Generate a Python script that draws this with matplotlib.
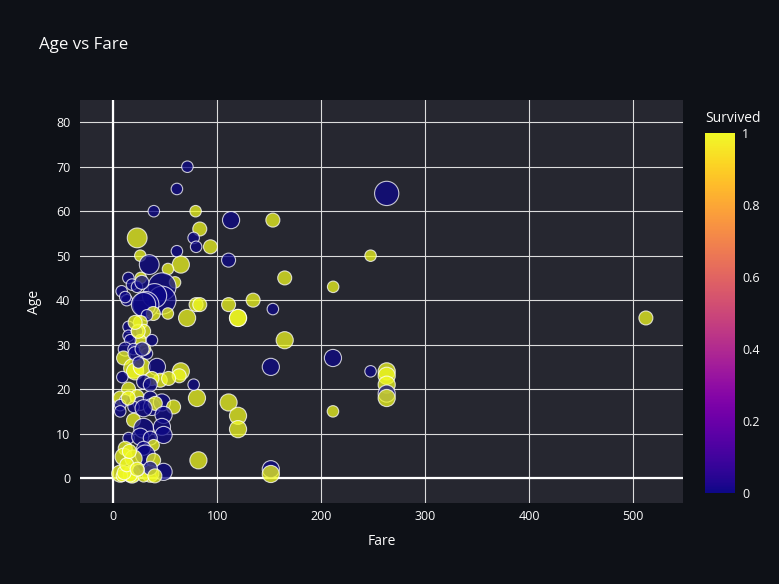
import numpy as np
import matplotlib
matplotlib.use("Agg")
import matplotlib.pyplot as plt
from matplotlib.colors import Normalize

plt.rcParams['font.family'] = ['Open Sans', 'DejaVu Sans']

# fare, age, survived (0/1) and family size (used for bubble area)
fare = [263, 113.3, 153.5, 83.2, 93.5, 110.9, 247.5, 164.9, 211.5, 79.65,
        83.2, 110.9, 134.5, 153.5, 120, 120, 164.9, 211.3, 151.55, 247.5,
        263, 263, 263, 263, 263, 80.5, 110.9, 120, 120, 211.3,
        81.9, 151.55, 151.55, 512.3, 71.3, 61.2, 39, 79.2, 23, 77.3,
        79.7, 61.2, 26, 34.6, 65, 52.6, 14.5, 26.5, 18, 59.4,
        8.05, 13, 46.9, 46.9, 39.7, 31.3, 29.1, 22.8, 27.5, 11.5,
        52.5, 71, 38.5, 32.4, 26, 29.2, 14.7, 14.7, 22.8, 26,
        16.3, 37.2, 11.5, 19.5, 32.4, 9.9, 19.5, 21, 27.5, 42,
        65, 63.4, 45.2, 53.2, 37.2, 29.2, 35.6, 77.3, 14.7, 6.7,
        11.5, 22.8, 26, 35.6, 37.2, 46.8, 40.4, 58, 6.7, 19.5,
        6.7, 29.2, 48.4, 19.5, 29.2, 46.8, 48.4, 14.7, 26, 35.6,
        38.8, 29.2, 30.8, 11.5, 9.9, 19.5, 38.8, 48.4, 6.7, 18,
        18, 35.6, 29.2, 16.3, 8.3, 35.6, 24.3, 14.5, 21, 24.2,
        30.5, 8.7, 10.5, 13, 23, 40, 15.5, 24, 21, 27.7]
age = [64, 58, 58, 56, 52, 49, 50, 45, 43, 39,
       39, 39, 40, 38, 36, 36, 31, 27, 25, 24,
       24, 23, 21, 19, 18, 18, 17, 14, 11, 15,
       4, 2, 0.92, 36, 70, 65, 60, 60, 54, 54,
       52, 51, 50, 48, 48, 47, 45, 45, 43.5, 44,
       42, 40, 43, 40, 41, 39, 39, 43, 44, 40.7,
       37, 36, 37, 36.6, 35, 33, 34, 32, 33, 31,
       31, 31, 29, 29, 28, 27, 24.7, 24, 25, 25,
       24, 23, 22, 22.4, 22.4, 21.6, 21, 21, 20, 18,
       17.5, 18.3, 16.8, 18, 16, 17, 16.8, 16, 16.4, 16,
       15, 15.7, 14.2, 13, 11.2, 11.5, 9.7, 9, 9.3, 9,
       7.4, 6.7, 5.2, 6.7, 4.8, 4.4, 4, 1.4, 1, 1,
       0.8, 1, 0.4, 0.7, 0.5, 2.2, 1.8, 18, 28, 26,
       29, 22.7, 1.2, 3, 2, 0.5, 6, 33, 35, 29]
survived = [0, 0, 1, 1, 1, 0, 1, 1, 1, 1,
            1, 1, 1, 0, 1, 1, 1, 0, 0, 0,
            1, 1, 1, 0, 1, 1, 1, 1, 1, 1,
            1, 0, 1, 1, 0, 0, 0, 1, 1, 0,
            0, 0, 1, 0, 1, 1, 0, 1, 0, 1,
            0, 0, 0, 0, 0, 0, 0, 0, 0, 0,
            1, 1, 1, 0, 1, 1, 0, 0, 0, 1,
            0, 0, 0, 0, 0, 1, 1, 1, 1, 0,
            1, 1, 1, 1, 1, 0, 0, 0, 1, 1,
            0, 1, 0, 0, 0, 0, 1, 1, 0, 0,
            0, 0, 0, 1, 0, 0, 0, 0, 0, 0,
            1, 0, 0, 1, 1, 1, 1, 0, 1, 1,
            1, 1, 1, 1, 1, 0, 0, 1, 0, 0,
            1, 0, 1, 1, 1, 1, 1, 1, 1, 0]
family = [6, 3, 2, 2, 2, 2, 1, 2, 1, 2,
          2, 2, 2, 1, 3, 3, 3, 3, 3, 1,
          3, 3, 3, 3, 3, 3, 3, 3, 3, 1,
          3, 3, 3, 2, 1, 1, 1, 1, 4, 1,
          1, 1, 1, 4, 3, 1, 1, 1, 1, 1,
          1, 1, 8, 8, 6, 7, 6, 1, 2, 1,
          1, 3, 2, 1, 2, 2, 1, 1, 1, 1,
          1, 1, 2, 1, 1, 2, 4, 3, 3, 3,
          3, 2, 2, 2, 2, 2, 2, 1, 2, 2,
          1, 2, 2, 2, 3, 3, 2, 2, 1, 1,
          1, 3, 3, 2, 4, 3, 3, 1, 3, 2,
          1, 2, 4, 2, 3, 3, 2, 3, 3, 3,
          3, 3, 1, 2, 1, 2, 1, 2, 2, 1,
          1, 1, 2, 2, 2, 2, 2, 2, 2, 2]

fig = plt.figure(figsize=(7.79, 5.84), dpi=100)
fig.patch.set_facecolor('#0e1117')
ax = fig.add_axes([80 / 779, 81 / 584, 603 / 779, 403 / 584])
ax.set_facecolor('#262730')

# bubble area scaled like plotly (max diameter ~28px, small ones kept visible)
fam = np.array(family, dtype=float)
diam = np.maximum(28 * np.sqrt(fam / fam.max()), 11.5)
sizes = (diam * 0.72) ** 2

norm = Normalize(0, 1)
sc = ax.scatter(fare, age, s=sizes, c=survived, cmap='plasma', norm=norm,
                alpha=0.75, edgecolors=(1, 1, 1, 0.75), linewidths=0.8, zorder=3)

ax.set_xlim(-32, 548)
ax.set_ylim(-5.6, 85)
ax.set_xticks(range(0, 501, 100))
ax.set_yticks(range(0, 81, 10))
ax.grid(True, color='#dcdcdc', linewidth=0.8, zorder=0)
ax.set_axisbelow(True)
ax.axvline(0, color='white', linewidth=1.6, zorder=1)
ax.axhline(0, color='white', linewidth=1.6, zorder=1)
for s in ax.spines.values():
    s.set_visible(False)
ax.tick_params(colors='#fafafa', labelsize=9, length=0)
ax.tick_params(axis='x', pad=5)
ax.tick_params(axis='y', pad=7)

ax.set_xlabel('Fare', color='#fafafa', fontsize=10, labelpad=8)
ax.set_ylabel('Age', color='#fafafa', fontsize=10, labelpad=10)
fig.text(39 / 779, 1 - 45 / 584, 'Age vs Fare', color='#fafafa', fontsize=12.2,
         ha='left', va='center')

# colorbar
cax = fig.add_axes([705 / 779, 91 / 584, 30 / 779, 360 / 584])
cb = fig.colorbar(sc, cax=cax)
cb.solids.set_alpha(1)
cb.outline.set_visible(False)
cb.set_ticks([0, 0.2, 0.4, 0.6, 0.8, 1])
cb.set_ticklabels(['0', '0.2', '0.4', '0.6', '0.8', '1'])
cax.tick_params(colors='#fafafa', labelsize=9, length=0, pad=5)
fig.text(705 / 779, 1 - 119 / 584, 'Survived', color='#fafafa', fontsize=10,
         ha='left', va='center')

fig.savefig('out.png', dpi=100, facecolor=fig.get_facecolor())
